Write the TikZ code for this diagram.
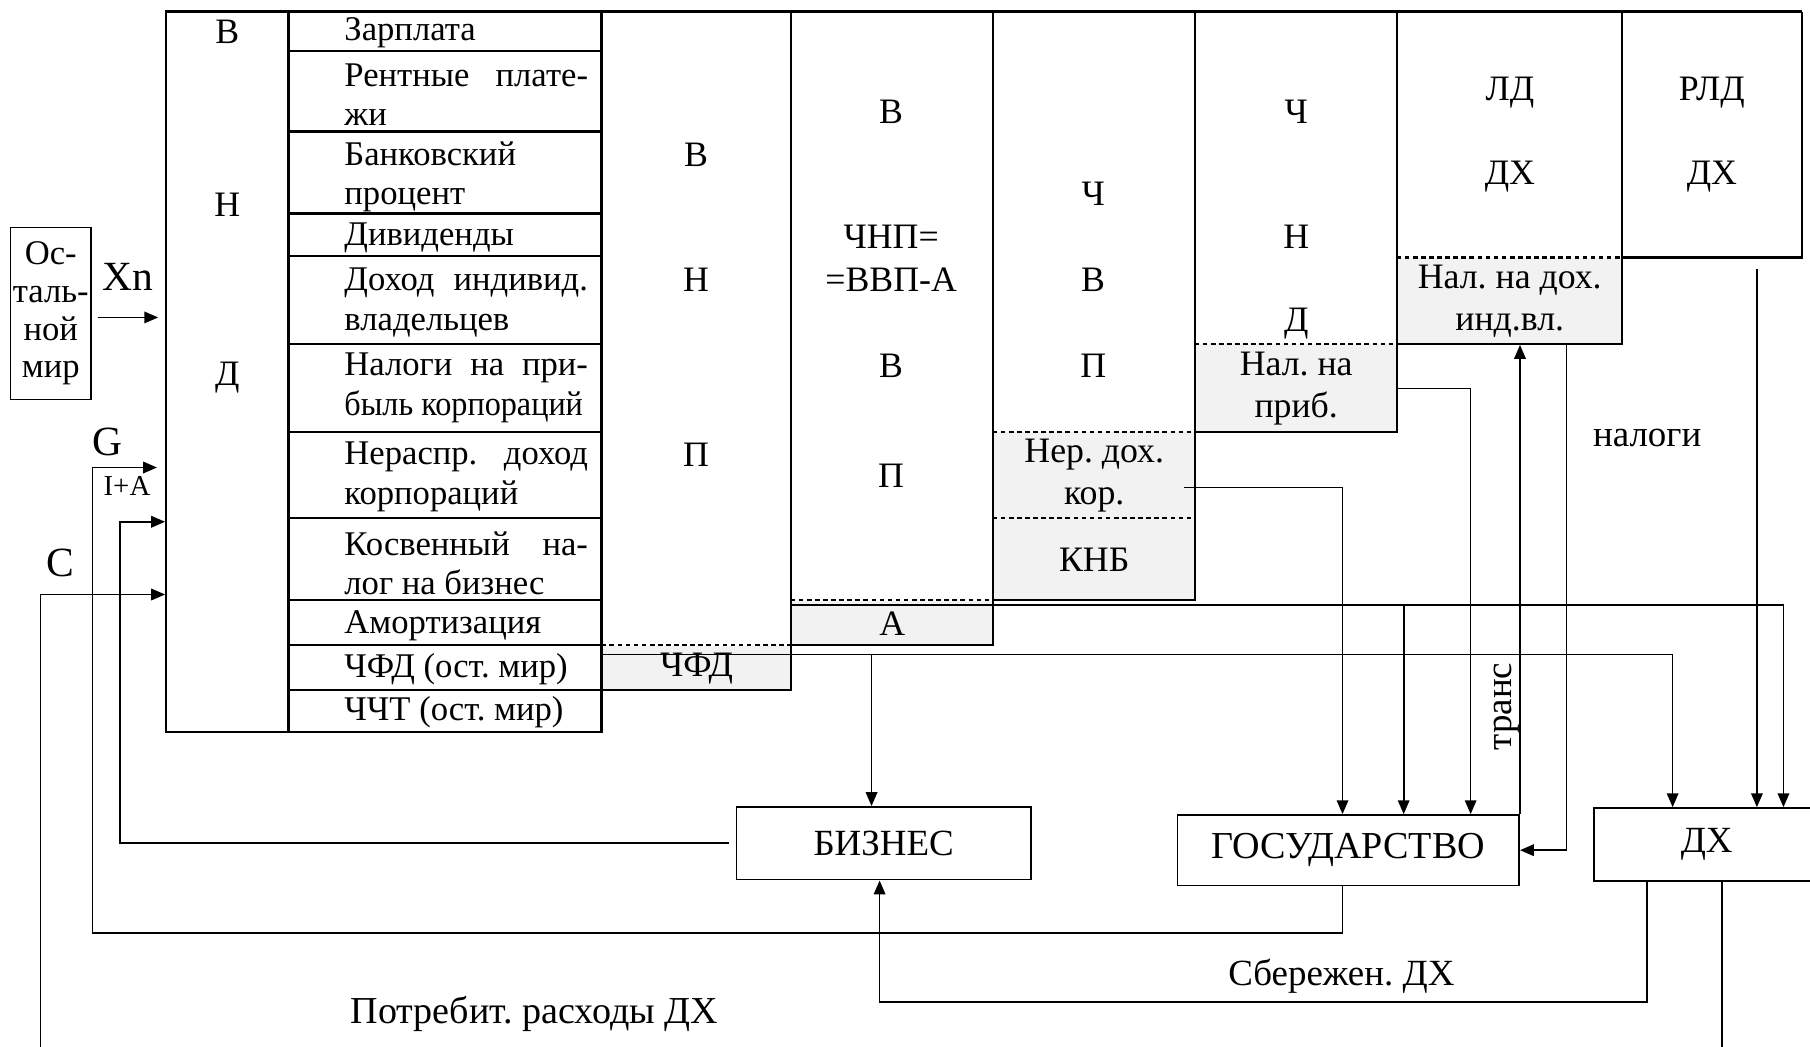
\documentclass[tikz,border=0pt]{standalone}
\usepackage{fontspec}
\setmainfont{Liberation Serif}
\usetikzlibrary{arrows.meta,calc}
\frenchspacing
\definecolor{cellgrey}{RGB}{242,242,242}
\newcommand\justline[1]{\makebox[105.5pt][s]{#1}}
\tikzset{
  rule/.style = {line width=1pt},
  dotrule/.style = {line width=1pt, dash pattern=on 2pt off 1.5pt},
  link/.style = {line width=0.7pt},
  arr/.style = {link, -{Triangle[length=6pt,width=5pt]}},
  item/.style = {anchor=west, inner sep=0pt, align=left, font=\fontsize{15}{17}\selectfont},
  letter/.style = {inner sep=0pt},
  greycell/.style = {fill=cellgrey, anchor=north west, inner sep=0pt, align=center, font=\fontsize{15.5}{18}\selectfont},
  sector/.style = {draw, line width=0.75pt, inner sep=0pt, font=\fontsize{16}{18}\selectfont},
  biglabel/.style = {inner sep=0pt, font=\fontsize{18}{20}\selectfont},
  flowlabel/.style = {inner sep=0pt, font=\fontsize{16}{18}\selectfont},
}
\begin{document}
\begin{tikzpicture}[x=0.5pt, y=-0.5pt, font=\fontsize{15.5}{17}\selectfont]
  \path[use as bounding box] (0,0) rectangle (1568,907);
  \clip (0,0) rectangle (1568,907);

  % shaded cells
  \node[greycell, minimum width=82pt, minimum height=19.5pt] (chfd) at (521,559) {ЧФД};
  \node[greycell, minimum width=87.5pt, minimum height=19.5pt] (acell) at (685,520) {А};
  \node[greycell, minimum width=87.5pt, minimum height=35.5pt] (knb) at (860,449) {КНБ};
  \node[greycell, minimum width=87.5pt, minimum height=37.5pt] (nerdoh) at (860,374) {Нер. дох.\\кор.};
  \node[greycell, minimum width=87.5pt, minimum height=38pt] (nalprib) at (1035,298) {Нал. на\\приб.};
  \node[greycell, minimum width=97.5pt, minimum height=37.5pt] (naldoh) at (1210,223) {Нал. на дох.\\инд.вл.};

  % table
  \node[draw, rule, minimum width=53pt, minimum height=312pt, inner sep=0pt] (nd) at (197,322) {};
  \draw[rule] (250,10) rectangle (521,634);
  \foreach \y in {44,114,185,222,298,374,449,520,559,598}
    \draw[rule] (250,\y) -- (521,\y);
  \draw[rule] (521,10) -- (1561,10);
  \draw[rule] (685,10) -- (685,598) -- (521,598);
  \draw[rule] (860,10) -- (860,559) -- (685,559);
  \draw[rule] (1035,10) -- (1035,520) -- (860,520);
  \draw[rule] (1210,10) -- (1210,374) -- (1035,374);
  \draw[rule] (1405,10) -- (1405,298) -- (1210,298);
  \draw[rule] (1561,10) -- (1561,223) -- (1405,223);
  \draw[dotrule] (521,559) -- (685,559);
  \draw[dotrule] (685,520) -- (860,520);
  \draw[dotrule] (860,374) -- (1035,374);
  \draw[dotrule] (860,449) -- (1035,449);
  \draw[dotrule] (1035,298) -- (1210,298);
  \draw[dotrule] (1210,223) -- (1405,223);

  \node[letter] (ndv) at (197,28) {В};
  \node[letter] (ndn) at (197,177) {Н};
  \node[letter] (ndd) at (197,327) {Д};

  \node[item] (zp) at (298,28) {Зарплата};
  \node[item] (rent) at (298,82) {\justline{Рентные плате-}\\жи};
  \node[item] (bank) at (298,153) {Банковский\\процент};
  \node[item] (div) at (298,206) {Дивиденды};
  \node[item] (indiv) at (298,262) {\justline{Доход индивид.}\\владельцев};
  \node[item] (tax) at (298,336) {\justline{Налоги на при-}\\\scalebox{0.93}[1]{быль корпораций}};
  \node[item] (nerasp) at (298,413) {\justline{Нераспр. доход}\\корпораций};
  \node[item] (kosv) at (298,488) {\justline{Косвенный на-}\\лог на бизнес};
  \node[item] (amort) at (298,542) {Амортизация};
  \node[item] (chfdrow) at (298,580) {ЧФД (ост. мир)};
  \node[item] (chchtrow) at (298,617) {ЧЧТ (ост. мир)};

  \node[letter] (vnvpv) at (603,134) {В};
  \node[letter] (vnvpn) at (603,242) {Н};
  \node[letter] (vnvpp) at (603,394) {П};

  \node[letter] (chnpv) at (772,97) {В};
  \node[letter, align=center, font=\fontsize{15.5}{18.5}\selectfont] (chnp) at (772,223.5) {ЧНП=\\=ВВП-А};
  \node[letter] (chnpv2) at (772,317) {В};
  \node[letter] (chnpp) at (772,412) {П};

  \node[letter] (chvpch) at (947,168) {Ч};
  \node[letter] (chvpv) at (947,242) {В};
  \node[letter] (chvpp) at (947,317) {П};

  \node[letter] (chndch) at (1123,97) {Ч};
  \node[letter] (chndn) at (1123,205) {Н};
  \node[letter] (chndd) at (1123,280) {Д};

  \node[letter] (ld) at (1308,80) {ЛД};
  \node[letter] (lddh) at (1308,153) {ДХ};
  \node[letter] (rld) at (1483,80) {РЛД};
  \node[letter] (rlddh) at (1483,153) {ДХ};

  % sectors
  \node[sector, align=center, minimum width=35pt, minimum height=74.5pt, font=\fontsize{15}{16.3}\selectfont] (rest) at (44,271.5) {Ос-\\таль-\\ной\\мир};
  \node[sector, minimum width=127.5pt, minimum height=31.5pt] (biz) at (765.5,730.5) {БИЗНЕС};
  \node[sector, minimum width=148pt, minimum height=30.5pt, font=\fontsize{16.5}{18}\selectfont] (gov) at (1168,736.5) {ГОСУДАРСТВО};
  \node[sector, minimum width=97.5pt, minimum height=31.5pt] (dh) at (1478.5,731.5) {ДХ};

  % labels
  \node[biglabel] (xn) at (111,240) {Xn};
  \node[biglabel] (g) at (93,383) {G};
  \node[inner sep=0pt, font=\fontsize{12.5}{14}\selectfont] (ia) at (110,421) {I+A};
  \node[biglabel] (c) at (52,488) {C};
  \node[flowlabel, font=\fontsize{16.5}{18}\selectfont] (potr) at (463,878) {Потребит. расходы ДХ};
  \node[flowlabel] (sber) at (1162,846) {Сбережен. ДХ};
  \node[flowlabel] (nal) at (1427,379) {налоги};
  \node[flowlabel, rotate=90] (trans) at (1305,612) {транс};

  % flows
  \draw[arr] ($(rest.east)+(5,3.5)$) -- ($(nd.west |- rest.east)+(-6,3.5)$);
  \draw[arr] (1163,0 |- gov.south) -- (1163,808) -| (80,405) -- ($(nd.west |- 0,405)+(-7,0)$);
  \draw[arr] ($(biz.west)+(-6,0)$) -| (104,452) -- (nd.west |- 0,452);
  \draw[arr] (35,907) |- (nd.west |- 0,515);

  \coordinate (knbsplit) at (1216,524);
  \coordinate (chfdsplit) at (755,567);
  \coordinate (rldout) at (1522,233);
  \draw[arr] ([yshift=-2pt]acell.north west) -| (1545,0 |- dh.north);
  \draw[arr] (knbsplit) -- (knbsplit |- gov.north);
  \draw[arr] ([yshift=-4pt]chfd.north west) -| (1449,0 |- dh.north);
  \draw[arr] (chfdsplit) -- (chfdsplit |- biz.north);
  \draw[arr] ($(nerdoh.east)+(-10,10.5)$) -| (1163,0 |- gov.north);
  \draw[arr] (nalprib.east) -| (1274,0 |- gov.north);
  \draw[arr] (gov.north east) -- (gov.north east |- naldoh.south);
  \draw[arr] (1357,0 |- naldoh.south) |- (gov.east);
  \draw[arr] (rldout) -- (rldout |- dh.north);
  \draw[arr] (1427,0 |- dh.south) -- (1427,868) -| (762,0 |- biz.south);
  \draw[link] (1492,0 |- dh.south) -- (1492,907);
\end{tikzpicture}
\end{document}
